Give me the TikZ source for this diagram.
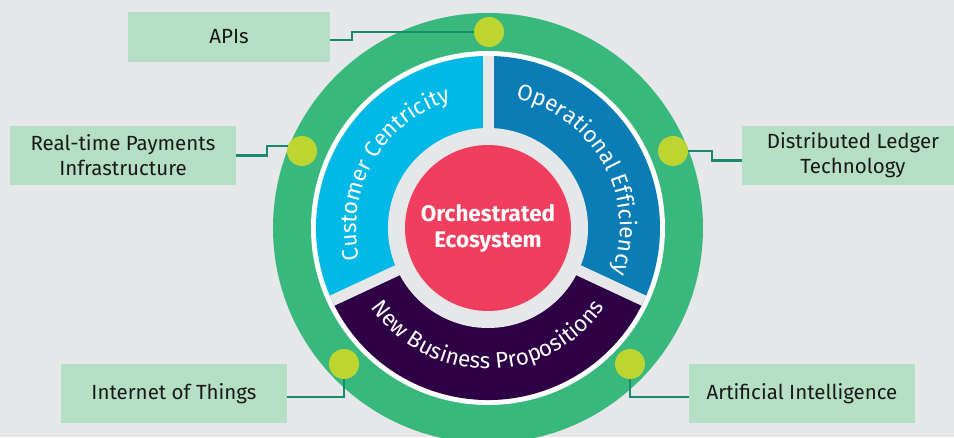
\documentclass[tikz,border=0pt]{standalone}
\usepackage{fontspec}
\setmainfont{Fira Sans}
\usetikzlibrary{decorations.text}
\definecolor{bggray}{HTML}{E6E7E8}
\definecolor{ringgreen}{HTML}{38B87C}
\definecolor{limedot}{HTML}{BDD531}
\definecolor{linkteal}{HTML}{178A6F}
\definecolor{tagfill}{HTML}{B5DFC5}
\definecolor{cyanseg}{HTML}{00B9E7}
\definecolor{blueseg}{HTML}{0A7DB7}
\definecolor{purpleseg}{HTML}{2E0046}
\definecolor{pinkred}{HTML}{F03E5E}
\begin{document}
\begin{tikzpicture}[
    x=1pt, y=1pt,
    tag/.style={rectangle, fill=tagfill, minimum width=226pt, minimum height=59pt,
        align=center, text=black!90, font=\fontsize{20.5}{25}\selectfont},
    dot/.style={circle, fill=limedot, minimum size=30pt, inner sep=0pt},
    link/.style={draw=linkteal, line width=2.5pt},
    gap/.style={draw=bggray, line width=11pt},
    arctext/.style={postaction={decorate}, decoration={text along path, text align=center,
        text={|\fontsize{22.5}{26}\selectfont\color{white}|#1}}}
]
\useasboundingbox (0,0) rectangle (954,437);
\fill[bggray] (0,0) rectangle (954,437);
\coordinate (c) at (488,209);

% rings and segments
\fill[ringgreen] (c) circle[radius=215];
\fill[white] (c) circle[radius=177];
\fill[bggray] (c) circle[radius=172];
\fill[cyanseg] (c) -- ++(90:172) arc[start angle=90, end angle=205, radius=172] -- cycle;
\fill[purpleseg] (c) -- ++(205:172) arc[start angle=205, end angle=335, radius=172] -- cycle;
\fill[blueseg] (c) -- ++(335:172) arc[start angle=-25, end angle=90, radius=172] -- cycle;
\draw[gap] (c) -- ++(90:172);
\draw[gap] (c) -- ++(205:172);
\draw[gap] (c) -- ++(335:172);
\fill[bggray] (c) circle[radius=100];
\node[circle, fill=pinkred, minimum size=166pt, inner sep=0pt, align=center, text=white,
    font=\fontsize{22.5}{26}\selectfont\bfseries] (eco) at (c) {Orchestrated\\Ecosystem};

% curved labels
\path[arctext=Customer Centricity] (c) ++(205:132) arc[start angle=205, end angle=95, radius=132];
\path[arctext=Operational Efficiency] (c) ++(85:132) arc[start angle=85, end angle=-27, radius=132];
\path[arctext=New Business Propositions] (c) ++(200:141) arc[start angle=200, end angle=340, radius=141];

% dots on the ring
\node[dot] (dapi) at (489,405) {};
\node[dot] (drt) at (302,286) {};
\node[dot] (ddlt) at (673,286) {};
\node[dot] (diot) at (344,73) {};
\node[dot] (dai) at (630,73) {};

% technology tags
\node[tag, minimum width=202pt, minimum height=50pt] (apis) at (229,400) {APIs};
\node[tag] (rt) at (123,281.5) {Real-time Payments\\Infrastructure};
\node[tag, minimum width=222pt] (dlt) at (853,281.5) {Distributed Ledger\\Technology};
\node[tag] (iot) at (174,43.5) {Internet of Things};
\node[tag] (ai) at (802,43.5) {Artificial Intelligence};

\draw[link] ([yshift=-3pt]apis.east) -- ++(22,0) |- (dapi);
\draw[link] (rt.east) -- ++(31,0) |- (drt.160);
\draw[link] (ddlt.east) -- ++(24,0) |- ([yshift=-5pt]dlt.west);
\draw[link] (diot.south) |- ([yshift=-3.5pt]iot.east);
\draw[link] (dai.south) |- ([yshift=-3.5pt]ai.west);
\end{tikzpicture}
\end{document}
